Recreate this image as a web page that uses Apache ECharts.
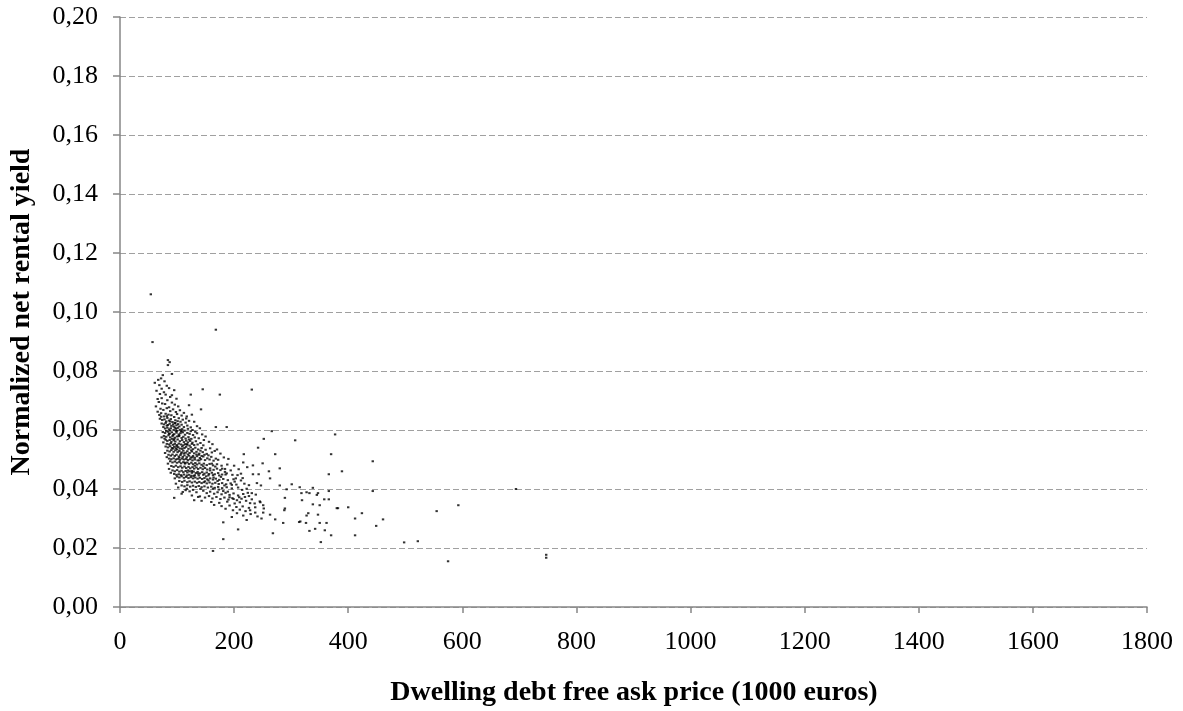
<!DOCTYPE html>
<html>
<head>
<meta charset="utf-8">
<script src="https://cdn.jsdelivr.net/npm/echarts@6/dist/echarts.min.js"></script>
<style>
html,body{margin:0;padding:0;background:#fff;}
#chart{width:1183px;height:711px;}
</style>
</head>
<body>
<div id="chart"></div>
<script>
const xTicks = [0,200,400,600,800,1000,1200,1400,1600,1800];
const yTicks = [0,0.02,0.04,0.06,0.08,0.10,0.12,0.14,0.16,0.18,0.20];
const xTitle = 'Dwelling debt free ask price (1000 euros)';
const yTitle = 'Normalized net rental yield';

// [price (1000 EUR), normalized net rental yield]
const outliers = [
[54,0.1060],[57,0.0898],[168,0.0940],[231,0.0737],[175,0.0720],[124,0.0720],[145,0.0738],[142,0.0670],
[266,0.0596],[252,0.0570],[307,0.0565],[377,0.0585],[370,0.0518],[272,0.0518],[443,0.0494],[366,0.0450],
[389,0.0460],[292,0.0399],[315,0.0406],[338,0.0404],[366,0.0393],[443,0.0393],[318,0.0386],[332,0.0386],
[347,0.0386],[289,0.0370],[319,0.0362],[366,0.0365],[338,0.0348],[350,0.0345],[380,0.0335],[400,0.0338],
[424,0.0318],[288,0.0328],[327,0.0310],[347,0.0313],[314,0.0288],[326,0.0285],[350,0.0285],[362,0.0285],
[342,0.0265],[332,0.0258],[359,0.0260],[412,0.0300],[449,0.0275],[412,0.0243],[370,0.0243],[352,0.0220],
[694,0.0400],[593,0.0345],[555,0.0325],[461,0.0297],[522,0.0223],[498,0.0219],[575,0.0155],[747,0.0177],
[747,0.0167],[382,0.0335],[327,0.0389],[345,0.0380],[358,0.0365],[330,0.0318],[316,0.0290],[289,0.0334]
];
const bandA = [[84,0.0837],[87,0.0830],[84,0.0820],[91,0.0790],[75,0.0786],[72,0.0775],[67,0.0770],[61,0.0760],[82,0.0750],[73,0.0740],[80,0.0720],[91,0.0718],[73,0.0708],[78,0.0765],[69,0.0752],[86,0.0742],[64,0.0733],[77,0.0728],[95,0.0735],[70,0.0722],[88,0.0712],[66,0.0705],[83,0.0701],[99,0.0706]];
const bandB = [[63,0.0680],[82,0.0674],[86,0.0677],[102,0.0680],[121,0.0684],[68,0.0695],[74,0.0690],[79,0.0688],[91,0.0693],[96,0.0686],[71,0.0672],[76,0.0668],[88,0.0664],[93,0.0670],[98,0.0661],[105,0.0667],[112,0.0658],[66,0.0662],[80,0.0655],[85,0.0652],[72,0.0657],[90,0.0650],[100,0.0654],[108,0.0649],[77,0.0646],[83,0.0641],[95,0.0644],[117,0.0646],[69,0.0651],[126,0.0652],[103,0.0640]];
const bandC = [[70,0.0638],[74,0.0634],[78,0.0636],[81,0.0629],[86,0.0632],[89,0.0637],[92,0.0627],[97,0.0633],[101,0.0630],[106,0.0628],[110,0.0635],[115,0.0625],[121,0.0631],[130,0.0628],[73,0.0622],[77,0.0619],[80,0.0624],[84,0.0617],[87,0.0621],[90,0.0614],[93,0.0619],[96,0.0623],[99,0.0616],[102,0.0620],[104,0.0612],[108,0.0618],[112,0.0610],[118,0.0615],[124,0.0609],[135,0.0613],[76,0.0610],[79,0.0605],[83,0.0608],[86,0.0602],[89,0.0606],[94,0.0600],[98,0.0604],[101,0.0607],[105,0.0601],[109,0.0603],[113,0.0598],[119,0.0604],[127,0.0600],[140,0.0606],[168,0.0610],[187,0.0610],[72,0.0645],[82,0.0647],[94,0.0612],[116,0.0639],[96,0.0608],[88,0.0598],[100,0.0597],[107,0.0595],[81,0.0597]];
const bandD = [[75,0.0593],[79,0.0590],[84,0.0594],[87,0.0588],[91,0.0592],[95,0.0586],[99,0.0591],[103,0.0585],[106,0.0589],[110,0.0592],[114,0.0584],[118,0.0590],[122,0.0587],[128,0.0583],[135,0.0589],[144,0.0585],[77,0.0580],[81,0.0577],[85,0.0582],[88,0.0575],[92,0.0579],[96,0.0574],[100,0.0578],[104,0.0581],[108,0.0573],[111,0.0577],[115,0.0571],[120,0.0576],[125,0.0570],[131,0.0575],[138,0.0572],[150,0.0578],[80,0.0567],[83,0.0563],[87,0.0566],[90,0.0560],[94,0.0565],[97,0.0561],[101,0.0568],[105,0.0562],[109,0.0566],[112,0.0559],[116,0.0564],[119,0.0558],[123,0.0563],[127,0.0557],[133,0.0562],[141,0.0556],[156,0.0560],[82,0.0553],[86,0.0551],[89,0.0555],[93,0.0550],[96,0.0553],[100,0.0549],[103,0.0554],[107,0.0551],[111,0.0548],[114,0.0552],[118,0.0550],[122,0.0547],[126,0.0553],[130,0.0549],[136,0.0551],[146,0.0548],[162,0.0552],[78,0.0571],[98,0.0596],[124,0.0596],[132,0.0594],[91,0.0570],[147,0.0566],[73,0.0575],[76,0.0558]];
const bandE = [[80,0.0544],[84,0.0541],[88,0.0545],[91,0.0539],[95,0.0543],[98,0.0538],[102,0.0542],[105,0.0537],[109,0.0544],[113,0.0539],[116,0.0543],[120,0.0536],[124,0.0541],[128,0.0535],[132,0.0540],[137,0.0534],[143,0.0539],[150,0.0533],[158,0.0538],[170,0.0534],[83,0.0530],[87,0.0527],[90,0.0532],[94,0.0526],[97,0.0531],[101,0.0525],[104,0.0529],[108,0.0524],[111,0.0530],[115,0.0523],[118,0.0528],[122,0.0522],[126,0.0527],[130,0.0521],[134,0.0526],[139,0.0520],[145,0.0525],[152,0.0519],[161,0.0524],[176,0.0520],[85,0.0516],[89,0.0513],[92,0.0517],[96,0.0512],[99,0.0516],[103,0.0510],[106,0.0515],[110,0.0509],[113,0.0514],[117,0.0508],[121,0.0513],[124,0.0507],[128,0.0512],[131,0.0506],[135,0.0511],[140,0.0505],[146,0.0510],[153,0.0504],[160,0.0509],[168,0.0503],[182,0.0507],[86,0.0503],[90,0.0501],[94,0.0504],[98,0.0500],[101,0.0502],[105,0.0499],[109,0.0503],[112,0.0500],[116,0.0502],[119,0.0498],[123,0.0501],[127,0.0497],[131,0.0500],[136,0.0497],[142,0.0501],[149,0.0498],[157,0.0500],[164,0.0496],[172,0.0499],[190,0.0502],[79,0.0522],[82,0.0508],[100,0.0534],[107,0.0520],[119,0.0517],[141,0.0530],[155,0.0514],[166,0.0529],[93,0.0537],[125,0.0531],[138,0.0516],[217,0.0518],[242,0.0540]];
const bandF = [[88,0.0494],[92,0.0490],[96,0.0493],[100,0.0489],[104,0.0492],[107,0.0487],[111,0.0491],[114,0.0486],[118,0.0490],[121,0.0485],[125,0.0489],[128,0.0484],[132,0.0488],[135,0.0483],[139,0.0487],[143,0.0482],[147,0.0486],[152,0.0481],[157,0.0485],[163,0.0480],[170,0.0484],[178,0.0479],[188,0.0483],[200,0.0479],[90,0.0478],[94,0.0475],[98,0.0479],[102,0.0474],[106,0.0477],[109,0.0472],[113,0.0476],[116,0.0471],[120,0.0475],[123,0.0470],[127,0.0474],[130,0.0469],[134,0.0473],[137,0.0468],[141,0.0472],[145,0.0467],[149,0.0471],[153,0.0466],[158,0.0470],[164,0.0465],[170,0.0469],[176,0.0464],[184,0.0468],[194,0.0463],[208,0.0467],[92,0.0463],[96,0.0460],[100,0.0464],[104,0.0459],[108,0.0462],[111,0.0457],[115,0.0461],[118,0.0456],[122,0.0460],[126,0.0455],[129,0.0459],[133,0.0454],[136,0.0458],[140,0.0453],[144,0.0457],[148,0.0452],[152,0.0456],[156,0.0451],[161,0.0455],[166,0.0450],[172,0.0454],[179,0.0449],[187,0.0453],[197,0.0448],[212,0.0452],[95,0.0451],[99,0.0448],[103,0.0450],[107,0.0447],[112,0.0449],[117,0.0446],[121,0.0448],[125,0.0445],[131,0.0447],[138,0.0446],[146,0.0448],[155,0.0446],[163,0.0447],[174,0.0446],[185,0.0449],[84,0.0486],[86,0.0468],[89,0.0455],[233,0.0480],[250,0.0487],[223,0.0474],[233,0.0450],[243,0.0450],[261,0.0460],[216,0.0490],[280,0.0470]];
const bandG = [[100,0.0442],[104,0.0439],[108,0.0443],[112,0.0438],[116,0.0441],[120,0.0437],[124,0.0440],[128,0.0436],[132,0.0439],[136,0.0435],[140,0.0438],[144,0.0434],[148,0.0437],[153,0.0433],[158,0.0436],[163,0.0432],[168,0.0435],[174,0.0431],[181,0.0434],[189,0.0430],[199,0.0433],[212,0.0429],[104,0.0427],[109,0.0424],[113,0.0428],[118,0.0423],[122,0.0426],[126,0.0422],[131,0.0425],[135,0.0421],[139,0.0424],[143,0.0420],[147,0.0423],[152,0.0419],[157,0.0422],[162,0.0418],[167,0.0421],[173,0.0417],[179,0.0420],[186,0.0416],[194,0.0419],[204,0.0415],[218,0.0418],[108,0.0412],[113,0.0409],[118,0.0413],[123,0.0408],[128,0.0411],[133,0.0407],[138,0.0410],[143,0.0406],[148,0.0409],[154,0.0405],[160,0.0408],[166,0.0404],[172,0.0407],[179,0.0403],[187,0.0406],[196,0.0402],[207,0.0405],[222,0.0401],[96,0.0436],[98,0.0418],[102,0.0405],[117,0.0401],[141,0.0400],[163,0.0401],[183,0.0412],[201,0.0425],[215,0.0437],[240,0.0420],[247,0.0412],[263,0.0436],[280,0.0412],[301,0.0416]];
const bandH = [[95,0.0370],[110,0.0390],[137,0.0373],[115,0.0396],[122,0.0392],[128,0.0397],[134,0.0389],[146,0.0394],[152,0.0386],[158,0.0391],[165,0.0384],[171,0.0389],[178,0.0382],[185,0.0387],[192,0.0380],[199,0.0385],[207,0.0378],[216,0.0383],[226,0.0376],[238,0.0381],[126,0.0378],[140,0.0375],[149,0.0371],[156,0.0376],[162,0.0368],[169,0.0373],[176,0.0366],[183,0.0371],[190,0.0364],[197,0.0369],[205,0.0362],[213,0.0367],[221,0.0360],[231,0.0365],[245,0.0358],[219,0.0373],[231,0.0386],[143,0.0360],[160,0.0356],[174,0.0353],[188,0.0357],[201,0.0351],[210,0.0355],[228,0.0352],[246,0.0355],[251,0.0345],[108,0.0384],[130,0.0362]];
const bandI = [[165,0.0346],[178,0.0342],[192,0.0344],[204,0.0339],[215,0.0341],[226,0.0336],[237,0.0338],[252,0.0334],[185,0.0333],[198,0.0328],[210,0.0330],[220,0.0325],[228,0.0328],[237,0.0320],[251,0.0320],[263,0.0313],[216,0.0310],[205,0.0318],[229,0.0315],[241,0.0307],[272,0.0297],[196,0.0305],[248,0.0300],[181,0.0287],[286,0.0285],[207,0.0263],[268,0.0250],[181,0.0230],[163,0.0190],[222,0.0295]];
const extra = [[93,0.0583],[117,0.0552],[139,0.0497],[104,0.0506],[126,0.0461],[151,0.0443],[171,0.0427],[189,0.0391],[209,0.0372],[148,0.0516],[97,0.0624],[86,0.0587],[112,0.0521],[131,0.0479],[158,0.0463],[177,0.0441],[196,0.0414],[214,0.0397],[121,0.0568],[108,0.0597],[143,0.0512],[167,0.0476],[184,0.0458],[203,0.0436],[226,0.0413],[119,0.0463],[137,0.0452],[155,0.0429],[173,0.0398],[192,0.0372],[82,0.0615],[95,0.0569],[109,0.0536],[127,0.0507],[146,0.0477],[164,0.0439],[181,0.0393],[199,0.0366],[103,0.0579],[114,0.0489],[129,0.0444],[149,0.0426],[88,0.0629],[99,0.0545],[134,0.0517],[161,0.0486],[179,0.0469],[206,0.0447],[224,0.0387],[236,0.0351]];

const points = [].concat(outliers, bandA, bandB, bandC, bandD, bandE, bandF, bandG, bandH, bandI, extra);

const serif = '"Liberation Serif", "Times New Roman", serif';
const chart = echarts.init(document.getElementById('chart'), null, {renderer:'canvas'});
chart.setOption({
  animation: false,
  backgroundColor: '#ffffff',
  grid: {left:120, right:36, top:17, bottom:104, containLabel:false},
  xAxis: {
    type:'value', min:xTicks[0], max:xTicks[xTicks.length-1], interval:200,
    axisLine:{show:true, onZero:false, lineStyle:{color:'#868686', width:1.5}},
    axisTick:{show:true, inside:false, length:6, lineStyle:{color:'#868686', width:1.5}},
    axisLabel:{fontFamily:serif, fontSize:26, color:'#000', margin:22,
      formatter:function(v){return String(v);}},
    splitLine:{show:false}
  },
  yAxis: {
    type:'value', min:yTicks[0], max:yTicks[yTicks.length-1], interval:0.02,
    axisLine:{show:true, onZero:false, lineStyle:{color:'#868686', width:1.5}},
    axisTick:{show:true, inside:false, length:7, lineStyle:{color:'#868686', width:1.5}},
    axisLabel:{fontFamily:serif, fontSize:26, color:'#000', margin:22,
      formatter:function(v){return v.toFixed(2).replace('.', ',');}},
    splitLine:{show:true, lineStyle:{color:'#a0a0a0', width:1, type:[6,3]}}
  },
  graphic: [
    {type:'text', x:634, y:693, silent:true,
      style:{text:xTitle, font:'bold 28px ' + serif, fill:'#000', align:'center', verticalAlign:'middle'}},
    {type:'text', x:22, y:312, rotation:Math.PI/2, silent:true,
      style:{text:yTitle, font:'bold 28px ' + serif, fill:'#000', align:'center', verticalAlign:'middle'}}
  ],
  series: [{
    type:'scatter', data:points, symbol:'rect', symbolSize:[2.4,2],
    itemStyle:{color:'#000'}, silent:true, large:false
  }]
});
</script>
</body>
</html>
